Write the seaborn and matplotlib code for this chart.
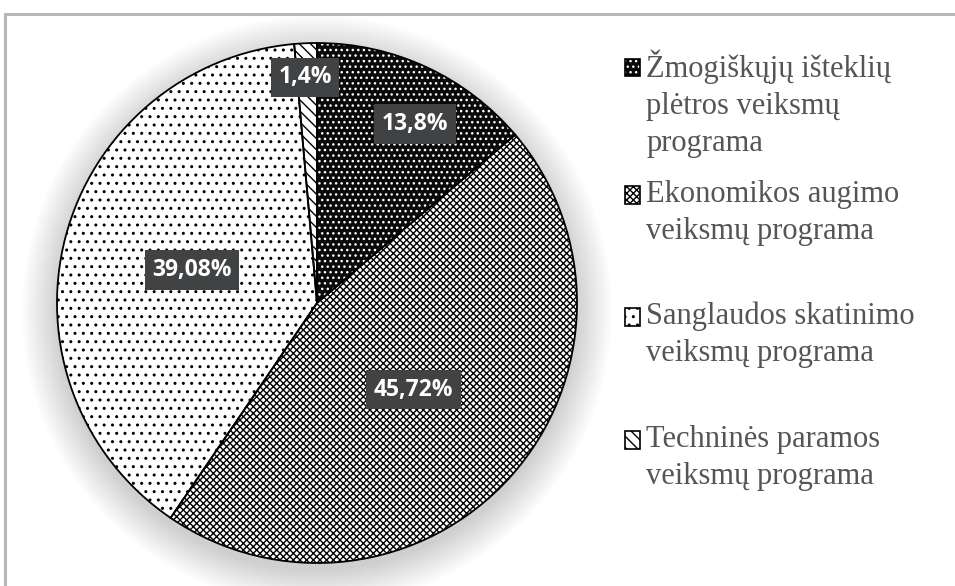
import numpy as np
import matplotlib
matplotlib.use("Agg")
import matplotlib.pyplot as plt
import seaborn as sns
from matplotlib.patches import Rectangle, Circle
from matplotlib.legend_handler import HandlerBase

# ---- data ----
categories = [
    "Žmogiškųjų išteklių\nplėtros veiksmų\nprograma",
    "Ekonomikos augimo\nveiksmų programa",
    "Sanglaudos skatinimo\nveiksmų programa",
    "Techninės paramos\nveiksmų programa",
]
shares = [13.8, 45.72, 39.08, 1.4]

# ---- style ----
sns.set_theme(style="white")
plt.rcParams["hatch.linewidth"] = 1.0
plt.rcParams["font.family"] = ["DejaVu Sans"]

face_cols = ["#0a0a0a", "white", "white", "white"]
hatch_cols = ["white", "black", "black", "black"]
hatches = ["...", "xxxxx", "..", "\\\\\\"]
label_dist = [0.785, 0.50, 0.497, 0.87]
label_turn = [-3.9, 0.1, -0.2, 0.5]
legend_y_px = [104, 213, 335, 458]

fig = plt.figure(figsize=(9.55, 5.86), dpi=100)
fig.patch.set_facecolor("white")

# outer frame (partially visible)
fig.patches.append(Rectangle((5 / 955, -0.05), 1.2, (586 - 14) / 586 + 0.05,
                             transform=fig.transFigure, fill=False,
                             edgecolor="#b8b8b8", linewidth=2.2, zorder=0))

ax = fig.add_axes([57 / 955, 23 / 586, 520 / 955, 520 / 586])

# soft shadow under the pie
for i in range(16):
    ax.add_patch(Circle((0.0, -0.03), 1.0 + 0.009 * i, facecolor="black",
                        edgecolor="none", alpha=0.012, zorder=0, clip_on=False))

wedges, _ = ax.pie(shares, startangle=90, counterclock=False, radius=1,
                   colors=face_cols, wedgeprops=dict(linewidth=0))
for w, h, hc in zip(wedges, hatches, hatch_cols):
    w.set_hatch(h)
    w.set_edgecolor(hc)
    w.set_linewidth(0)
    w.set_zorder(2)

outline, _ = ax.pie(shares, startangle=90, counterclock=False, radius=1,
                    wedgeprops=dict(fill=False, edgecolor="black", linewidth=1.3))
for w in outline:
    w.set_zorder(3)

for w, v, d, t in zip(wedges, shares, label_dist, label_turn):
    ang = np.deg2rad((w.theta1 + w.theta2) / 2 + t)
    x, y = d * np.cos(ang), d * np.sin(ang)
    ax.text(x, y, f"{v:g}".replace(".", ",") + "%", ha="center", va="center",
            color="white", fontsize=16.5, fontweight="bold", family="Open Sans",
            zorder=5,
            bbox=dict(boxstyle="square,pad=0.33", facecolor="#404244",
                      edgecolor="none"))

ax.set_xlim(-1, 1)
ax.set_ylim(-1, 1)
ax.set_aspect("auto")
ax.axis("off")


class SquareHandler(HandlerBase):
    def __init__(self, face, hcol, hatch, lift):
        super().__init__()
        self.face, self.hcol, self.hatch, self.lift = face, hcol, hatch, lift

    def create_artists(self, legend, orig_handle, xdescent, ydescent,
                       width, height, fontsize, trans):
        y0 = -ydescent + self.lift * fontsize
        fill = Rectangle((-xdescent, y0), width, height, facecolor=self.face,
                         edgecolor=self.hcol, hatch=self.hatch, linewidth=0,
                         transform=trans)
        border = Rectangle((-xdescent, y0), width, height, fill=False,
                           edgecolor="black", linewidth=1.2, transform=trans)
        return [fill, border]


for cat, fc, hc, h, ypx in zip(categories, face_cols, hatch_cols, hatches, legend_y_px):
    nlines = cat.count("\n") + 1
    handle = Rectangle((0, 0), 1, 1)
    handler = SquareHandler(fc, hc, h, (nlines - 1) / 2 * 1.2)
    leg = fig.legend(handles=[handle], labels=[cat], handler_map={handle: handler},
                     loc="center left", bbox_to_anchor=(625 / 955, 1 - ypx / 586),
                     frameon=False, borderpad=0, borderaxespad=0,
                     handlelength=0.5, handleheight=0.5, handletextpad=0.2,
                     prop=dict(family="Liberation Serif", size=22),
                     labelcolor="#555555")
    for txt in leg.get_texts():
        txt.set_linespacing(1.37)

fig.savefig("out.png", dpi=100, facecolor="white")
